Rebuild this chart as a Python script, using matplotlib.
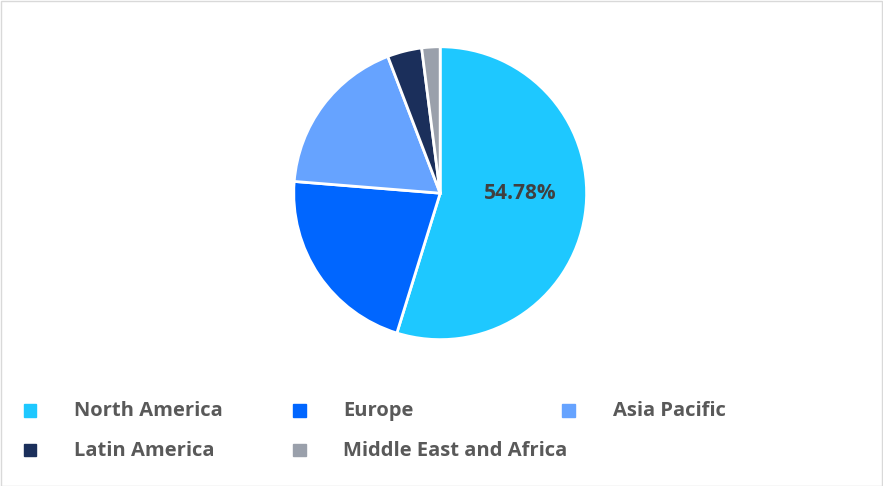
import matplotlib.pyplot as plt
from matplotlib.patches import Rectangle

labels = ["North America", "Europe", "Asia Pacific", "Latin America", "Middle East and Africa"]
shares = [54.78, 21.5, 17.9, 3.8, 2.02]
colors = ["#1EC8FF", "#0066FF", "#66A3FF", "#1B2F5B", "#9AA0AB"]

fig = plt.figure(figsize=(8.83, 4.86), dpi=100)
fig.patches.append(Rectangle((0.001, 0.001), 0.998, 0.996, transform=fig.transFigure,
                             fill=False, edgecolor="#D9D9D9", lw=1))
ax = fig.add_axes([0.331, 0.298, 0.335, 0.609])
wedges, texts = ax.pie(shares, colors=colors, startangle=90, counterclock=False,
                       wedgeprops=dict(edgecolor="white", linewidth=2))
ax.set_xlim(-1.01, 1.01)
ax.set_ylim(-1.01, 1.01)
ax.set_aspect("equal")
ax.text(0.55, 0.0, f"{shares[0]:.2f}%", ha="center", va="center",
        fontsize=15, fontweight="bold", color="#404040", family="Open Sans")

# legend as manual grid
pos = [(0.06, 0.155), (0.365, 0.155), (0.67, 0.155), (0.06, 0.073), (0.365, 0.073)]
for (x, y), lab, c in zip(pos, labels, colors):
    fig.patches.append(Rectangle((x - 0.033, y - 0.012), 0.014, 0.025,
                                 transform=fig.transFigure, color=c))
    fig.text(x + 0.024, y, lab, ha="left", va="center", fontsize=14.5,
             fontweight="bold", color="#595959", family="Open Sans")

fig.savefig("out.png", dpi=100)
